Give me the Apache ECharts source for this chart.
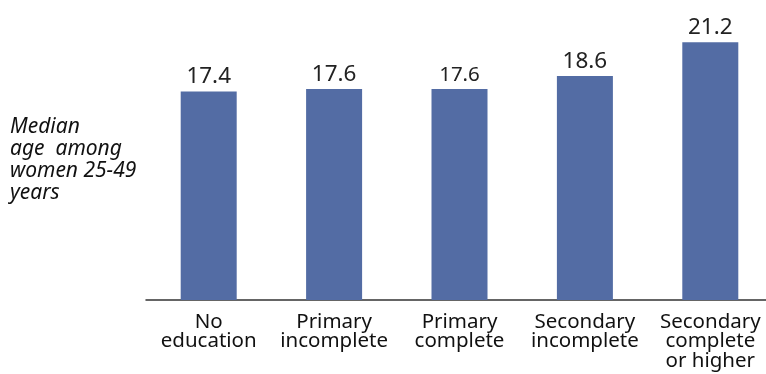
<!DOCTYPE html>
<html>
<head>
<meta charset="utf-8">
<script src="https://cdn.jsdelivr.net/npm/echarts@6/dist/echarts.min.js"></script>
<style>html,body{margin:0;padding:0;background:#fff}#c{width:766px;height:374px}</style>
</head>
<body>
<div id="c"></div>
<script>
const categories = ["No\neducation", "Primary\nincomplete", "Primary\ncomplete", "Secondary\nincomplete", "Secondary\ncomplete\nor higher"];
const values = [17.4, 17.6, 17.6, 18.6, 21.2];
const yTitle = "Median\nage  among\nwomen 25-49\nyears";

const chart = echarts.init(document.getElementById('c'));
chart.setOption({
  animation: false,
  grid: { left: 146, width: 627, top: 32, bottom: 74, outerBoundsMode: 'none', containLabel: false },
  xAxis: {
    type: 'category',
    data: categories,
    axisLine: { lineStyle: { color: '#333', width: 1.5 } },
    axisTick: { show: false },
    axisLabel: {
      color: '#111', fontFamily: 'Noto Sans', fontSize: 20.5, lineHeight: 19.5,
      margin: 12, interval: 0
    }
  },
  yAxis: {
    type: 'value', min: 1.3, max: 22,
    axisLine: { show: false }, axisTick: { show: false },
    axisLabel: { show: false }, splitLine: { show: false }
  },
  graphic: [{
    type: 'text', left: 10, top: 116,
    style: { text: yTitle, fill: '#111', font: 'italic 21px "Noto Sans"', lineHeight: 22 }
  }],
  series: [{
    type: 'bar',
    barWidth: 56,
    data: values.map((v, i) => i === 2 ? { value: v, label: { fontSize: 20.5 } } : v),
    itemStyle: { color: '#536ca4' },
    label: {
      show: true, position: 'top', distance: 3,
      color: '#222', fontFamily: 'Noto Sans', fontSize: 22.5,
      formatter: p => p.value.toFixed(1)
    }
  }]
});
</script>
</body>
</html>
